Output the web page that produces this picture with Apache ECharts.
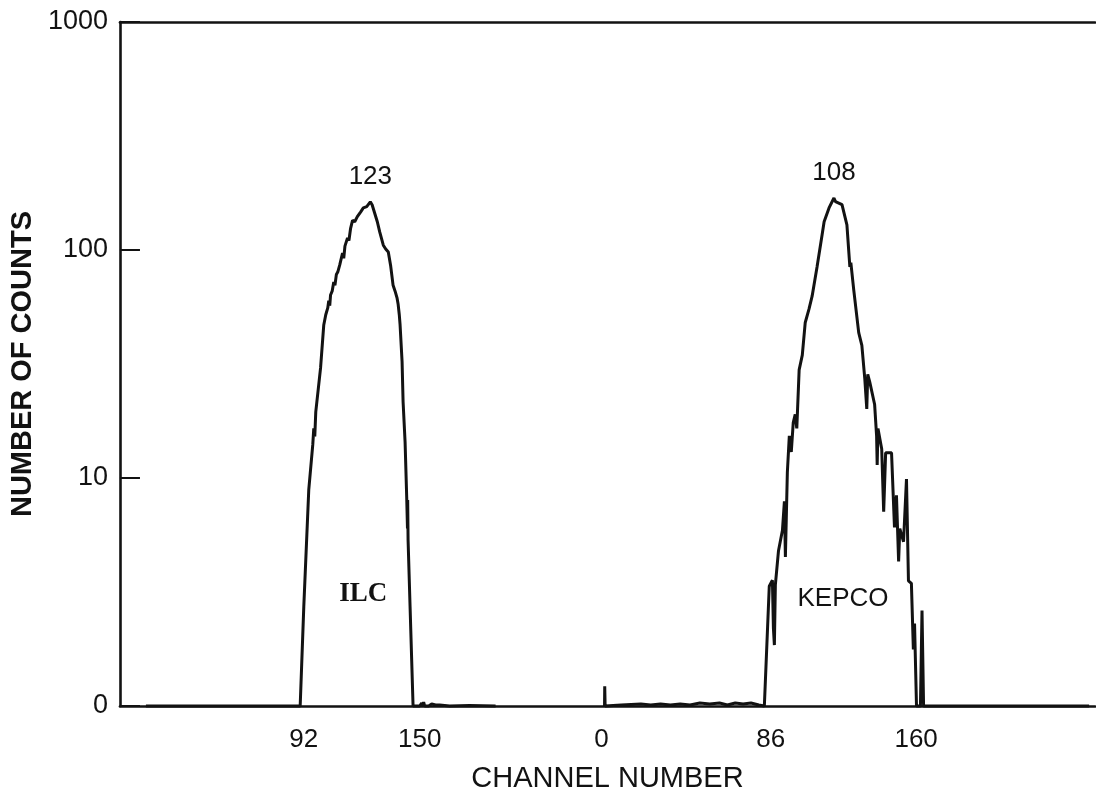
<!DOCTYPE html>
<html>
<head>
<meta charset="utf-8">
<script src="https://cdn.jsdelivr.net/npm/echarts@6/dist/echarts.min.js"></script>
<style>
  html, body { margin: 0; padding: 0; background: #ffffff; }
  #chart { width: 1096px; height: 799px; }
</style>
</head>
<body>
<div id="chart"></div>
<script>
// ---------------- DATA ----------------
// ILC spectrum (channel, counts)
const ilcChannels = [13, 89, 90.2, 92, 94.5, 96.5, 97, 97.5, 98, 100.4, 102, 103, 104, 104.5, 105, 105.4, 106.2, 107, 107.6, 108.3, 109, 110, 111.4, 112, 112.6, 113.9, 114.6, 115.4, 116.4, 117.5, 118.8, 119.6, 120.5, 121.8, 123.5, 125.3, 126.2, 127.5, 128.8, 130, 131.8, 133, 134.3, 135.5, 136.7, 137.7, 138.7, 139.2, 139.8, 140.2, 141.2, 141.7, 142.7, 143.5, 143.9, 144, 144.2, 145.2, 146.7, 150, 151, 151.5, 152, 152.5, 153.5, 154.5, 156, 158, 160, 165, 175, 188];
const ilcCounts   = [1, 1, 1, 2.72, 8.9, 14.0, 16.5, 15.2, 19.5, 30.4, 46.9, 52, 55.7, 60, 57, 63.5, 66, 72.4, 70, 78, 80, 86, 97, 92, 104, 113, 110, 124, 135, 133, 140, 138, 147, 153, 155, 162.5, 158, 145, 133, 120, 105, 101, 98, 85, 70, 66, 61.5, 58, 52, 46.9, 32.3, 21.6, 14.4, 8.3, 6.0, 8.0, 5.35, 2.72, 1, 1, 1.03, 1, 1.04, 1, 1.02, 1, 1.02, 1.01, 1.01, 1, 1.005, 1];

// KEPCO spectrum (channel, counts)
const kepcoChannels = [1.5, 1.6, 1.8, 10, 20, 25, 30, 35, 40, 45, 50, 55, 60, 64, 68, 72, 76, 80, 82.8, 85.3, 86.9, 87.4, 87.9, 88.4, 90, 92, 93, 93.5, 94.5, 95.5, 96.5, 97.5, 98.5, 99.3, 100.5, 102.1, 103.6, 105.5, 107.1, 109.6, 112.2, 113.2, 115.7, 118.2, 119.0, 119.7, 122.3, 124.8, 126.3, 126.8, 128.3, 130.8, 132.4, 133.9, 134.9, 135.4, 136.4, 138.9, 139.9, 140.2, 140.6, 142.5, 143.5, 144.5, 147.5, 149.0, 150, 151.1, 151.7, 153.6, 155.1, 156.1, 157.6, 158.6, 159.2, 160.2, 162.2, 163.0, 163.8, 248];
const kepcoCounts   = [1, 1.22, 1, 1.01, 1.02, 1.01, 1.02, 1.01, 1.02, 1.01, 1.03, 1.02, 1.03, 1.01, 1.03, 1.02, 1.03, 1.01, 1, 3.35, 3.56, 2.2, 1.85, 3.4, 4.8, 5.9, 7.9, 4.5, 10.6, 15.3, 13.0, 17.5, 19.0, 16.5, 29.8, 34.6, 48.1, 55, 62.7, 84.3, 117, 133, 153, 169, 163, 166, 158, 129, 84.4, 88, 66.5, 43.4, 38.2, 27.2, 20.1, 28.5, 26.4, 21.0, 15.3, 11.4, 16.5, 13.4, 7.11, 12.9, 12.9, 6.07, 8.4, 4.30, 6.0, 5.25, 9.9, 3.54, 3.45, 1.77, 2.3, 1, 1, 2.62, 1, 1];

// Tick values / labels
const yTickValues = [1, 10, 100, 1000];
const yTickLabels = ['0', '10', '100', '1000'];
const ilcTickValues = [92, 150];
const kepcoTickValues = [0, 86, 160];

// Annotations
const ilcPeakLabel = '123';
const kepcoPeakLabel = '108';
const ilcNameChannel = 121.8, ilcNameCount = 3.1;
const kepcoNameChannel = 122.8, kepcoNameCount = 2.95;

// ---------------- CHART ----------------
const INK = '#121212';
const FONT = "'Liberation Sans', Arial, sans-serif";

function pairs(xs, ys) { return xs.map((x, i) => [x, ys[i]]); }
function peakOf(xs, ys) {
  let k = 0;
  ys.forEach((v, i) => { if (v > ys[k]) k = i; });
  return [xs[k], ys[k]];
}

const chart = echarts.init(document.getElementById('chart'), null, { renderer: 'canvas' });

function spectrumSeries(name, xIdx, xs, ys, peakText, nameCh, nameCnt) {
  const isIlc = name === 'ILC';
  return {
    name: name,
    type: 'line',
    xAxisIndex: xIdx,
    yAxisIndex: 0,
    data: pairs(xs, ys),
    showSymbol: false,
    symbol: 'none',
    smooth: false,
    clip: false,
    lineStyle: { color: INK, width: 3 },
    z: 5,
    markPoint: {
      symbol: 'circle',
      symbolSize: 0,
      silent: true,
      data: [
        {
          coord: peakOf(xs, ys),
          label: { show: true, formatter: peakText, position: 'inside', offset: [0, -25],
                   fontSize: 26, color: INK, fontFamily: FONT }
        },
        {
          coord: [nameCh, nameCnt],
          label: { show: true, formatter: name, position: 'inside',
                   fontSize: isIlc ? 27 : 26, fontWeight: isIlc ? 'bold' : 'normal',
                   color: INK,
                   fontFamily: isIlc ? "'Liberation Serif', 'DejaVu Serif', serif" : FONT }
        }
      ]
    }
  };
}

const option = {
  backgroundColor: '#ffffff',
  animation: false,
  grid: { left: 113, right: 1, top: 22, bottom: 93, containLabel: false },
  xAxis: [
    {
      type: 'value', position: 'bottom', min: 0, max: 488,
      axisLine: { show: true, onZero: false, lineStyle: { color: INK, width: 2.6 } },
      axisTick: { show: false },
      splitLine: { show: false },
      axisLabel: { customValues: ilcTickValues, fontSize: 26, color: INK, margin: 21, fontFamily: FONT },
      name: 'CHANNEL NUMBER', nameLocation: 'middle', nameGap: 58,
      nameTextStyle: { fontSize: 29, color: INK, fontFamily: FONT }
    },
    {
      type: 'value', position: 'bottom', min: -245, max: 251,
      axisLine: { show: false, onZero: false },
      axisTick: { show: false },
      splitLine: { show: false },
      axisLabel: { customValues: kepcoTickValues, fontSize: 26, color: INK, margin: 21, fontFamily: FONT }
    },
    {
      type: 'value', position: 'top', min: 0, max: 1,
      axisLine: { show: true, onZero: false, lineStyle: { color: INK, width: 2.6 } },
      axisTick: { show: false },
      splitLine: { show: false },
      axisLabel: { show: false }
    }
  ],
  yAxis: [
    {
      type: 'log', logBase: 10, min: 1, max: 1000,
      axisLine: { show: true, onZero: false, lineStyle: { color: INK, width: 2.6 } },
      axisTick: { show: true, inside: true, length: 20, lineStyle: { color: INK, width: 2 } },
      splitLine: { show: false },
      minorTick: { show: false },
      axisLabel: {
        fontSize: 27, color: INK, margin: 12, fontFamily: FONT,
        formatter: function (v) {
          const i = yTickValues.findIndex(t => Math.abs(t - v) < 1e-6 * t);
          return i >= 0 ? yTickLabels[i] : '';
        }
      },
      name: 'NUMBER OF COUNTS', nameLocation: 'middle', nameGap: 80, nameRotate: 90,
      nameTextStyle: { fontSize: 29, fontWeight: 'bold', color: INK, fontFamily: FONT }
    }
  ],
  series: [
    spectrumSeries('ILC', 0, ilcChannels, ilcCounts, ilcPeakLabel, ilcNameChannel, ilcNameCount),
    spectrumSeries('KEPCO', 1, kepcoChannels, kepcoCounts, kepcoPeakLabel, kepcoNameChannel, kepcoNameCount)
  ]
};

chart.setOption(option);
</script>
</body>
</html>
